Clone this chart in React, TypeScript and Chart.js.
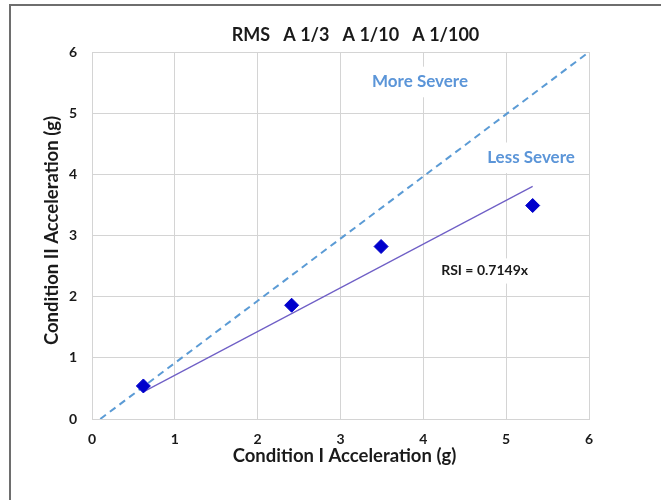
import { useEffect, useRef } from 'react';
import { Chart, registerables } from 'chart.js';

Chart.register(...registerables);

// Measured peak accelerations: Condition I (x) vs Condition II (y), in g
const measuredX = [0.62, 2.41, 3.49, 5.32];
const measuredY = [0.54, 1.86, 2.82, 3.49];

// Linear fit through the origin
const rsiSlope = 0.7149;
const fitX = [0.62, 5.32];

// Severity boundary line
const boundaryX = [0.1, 6];
const boundaryY = [0, 6];

const axisTicks = [0, 1, 2, 3, 4, 5, 6];

const titleText = 'RMS   A 1/3   A 1/10   A 1/100';
const xTitle = 'Condition I Acceleration (g)';
const yTitle = 'Condition II Acceleration (g)';
const fitLabel = `RSI = ${rsiSlope}x`;

// Text notes placed in data coordinates: [text, x, y, colour, size]
const notes: [string, number, number, string, number][] = [
  ['More Severe', 3.96, 5.51, '#5B95D8', 17],
  ['Less Severe', 5.3, 4.27, '#5B95D8', 17],
  [fitLabel, 4.74, 2.42, '#1a1a1a', 14],
];

const FONT = 'Lato, "Open Sans", sans-serif';
const GRID = '#d4d4d4';

const decorPlugin = {
  id: 'decor',
  beforeDraw(chart: any) {
    const { ctx, width, height } = chart;
    ctx.save();
    ctx.fillStyle = '#ffffff';
    ctx.fillRect(0, 0, width, height);
    ctx.fillStyle = '#6e6e6e';
    ctx.fillRect(9, 4, 2, height - 4);
    ctx.fillRect(9, 4, width - 9, 2);
    ctx.restore();
  },
  beforeDatasetsDraw(chart: any) {
    const { ctx, scales } = chart;
    ctx.save();
    ctx.textAlign = 'center';
    ctx.textBaseline = 'middle';
    for (const [text, x, y, color, size] of notes) {
      ctx.font = `bold ${size}px ${FONT}`;
      const px = scales.x.getPixelForValue(x);
      const py = scales.y.getPixelForValue(y);
      const w = ctx.measureText(text).width;
      ctx.fillStyle = '#ffffff';
      ctx.fillRect(px - w / 2 - 8, py - size * 0.9, w + 16, size * 1.8);
      ctx.fillStyle = color;
      ctx.fillText(text, px, py);
    }
    ctx.restore();
  },
  afterDraw(chart: any) {
    const { ctx, chartArea } = chart;
    const cx = (chartArea.left + chartArea.right) / 2;
    const cy = (chartArea.top + chartArea.bottom) / 2;
    ctx.save();
    ctx.fillStyle = '#1a1a1a';
    ctx.textAlign = 'center';
    ctx.textBaseline = 'alphabetic';
    ctx.font = `bold 18px ${FONT}`;
    ctx.fillText(titleText, cx + 15, 41);
    ctx.font = `bold 18.5px ${FONT}`;
    ctx.fillText(xTitle, cx + 4, 462);
    ctx.translate(58, cy - 5);
    ctx.rotate(-Math.PI / 2);
    ctx.fillText(yTitle, 0, 0);
    ctx.restore();
  },
};

export default function App() {
  const canvasRef = useRef<HTMLCanvasElement | null>(null);

  useEffect(() => {
    const canvas = canvasRef.current;
    if (!canvas) return;
    const tickFont = { family: FONT, size: 14, weight: 'bold' as const };
    const chart = new Chart(canvas, {
      type: 'scatter',
      data: {
        datasets: [
          {
            data: measuredX.map((x, i) => ({ x, y: measuredY[i] })),
            pointStyle: 'rectRot',
            pointRadius: 7,
            backgroundColor: '#0000CC',
            borderColor: '#0000CC',
            borderWidth: 1,
          },
          {
            data: fitX.map((x) => ({ x, y: rsiSlope * x })),
            showLine: true,
            borderColor: '#6F5FC6',
            borderWidth: 1.2,
            pointRadius: 0,
          },
          {
            data: boundaryX.map((x, i) => ({ x, y: boundaryY[i] })),
            showLine: true,
            borderColor: '#5B9BD5',
            borderWidth: 2,
            borderDash: [7, 5],
            pointRadius: 0,
          },
        ],
      },
      options: {
        responsive: false,
        animation: false,
        devicePixelRatio: 1,
        layout: { padding: { left: 0, right: 72, top: 52, bottom: 0 } },
        plugins: {
          legend: { display: false },
          tooltip: { enabled: false },
          title: { display: false },
        },
        scales: {
          x: {
            type: 'linear',
            min: 0,
            max: 6,
            afterFit: (s: any) => {
              s.height = 81;
            },
            afterBuildTicks: (s: any) => {
              s.ticks = axisTicks.map((v) => ({ value: v }));
            },
            grid: { color: GRID, drawTicks: false },
            border: { color: GRID },
            ticks: { padding: 12, font: tickFont, color: '#1a1a1a' },
          },
          y: {
            type: 'linear',
            min: 0,
            max: 6,
            afterFit: (s: any) => {
              s.width = 92;
            },
            afterBuildTicks: (s: any) => {
              s.ticks = axisTicks.map((v) => ({ value: v }));
            },
            grid: { color: GRID, drawTicks: false },
            border: { color: GRID },
            ticks: { padding: 15, font: tickFont, color: '#1a1a1a' },
          },
        },
      },
      plugins: [decorPlugin],
    });
    return () => chart.destroy();
  }, []);

  return (
    <div style={{ position: 'absolute', left: 0, top: 0, width: 661, height: 500 }}>
      <canvas ref={canvasRef} width={661} height={500} style={{ display: 'block', width: 661, height: 500 }} />
    </div>
  );
}
